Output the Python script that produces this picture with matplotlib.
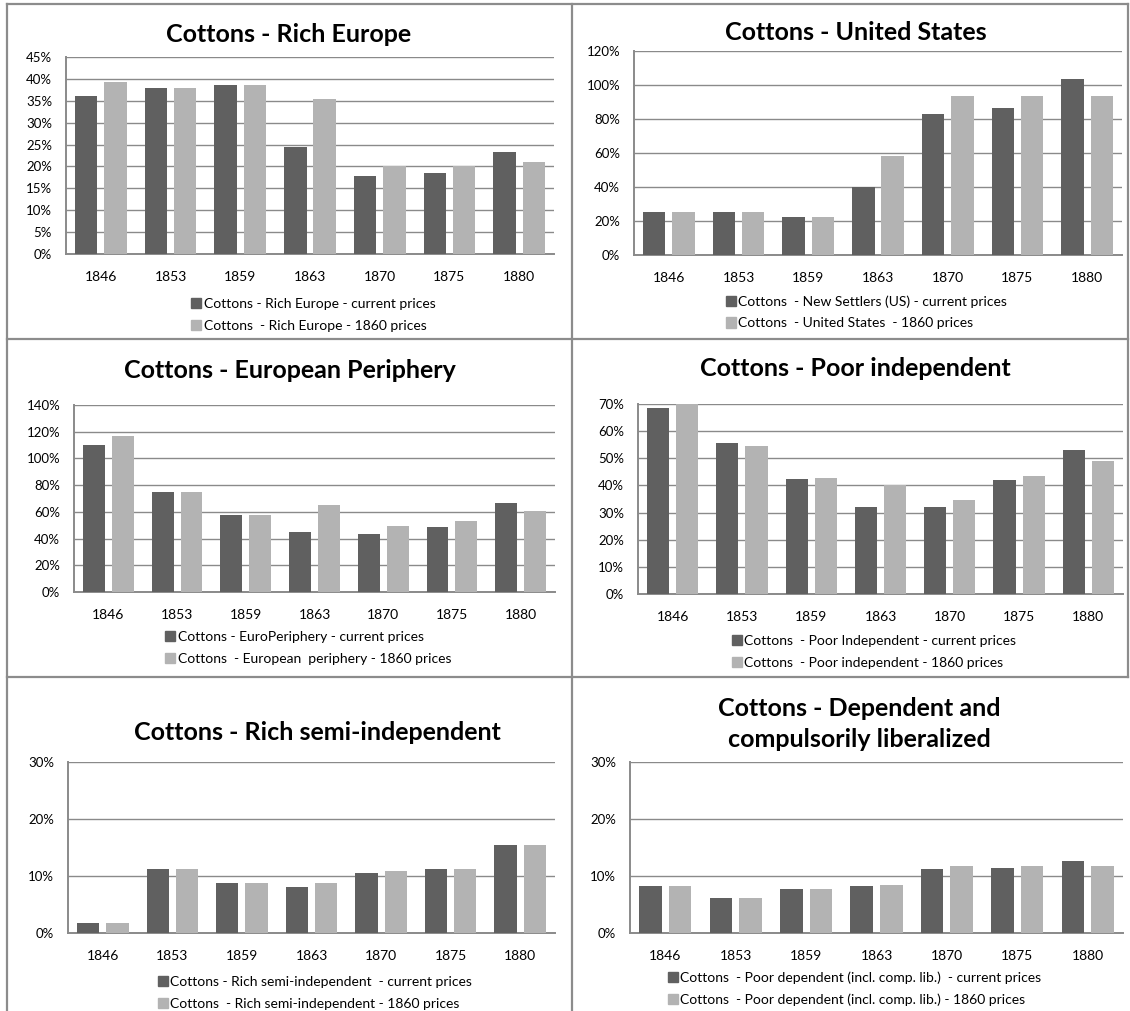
import matplotlib
matplotlib.use("Agg")
import matplotlib.pyplot as plt
import numpy as np
from matplotlib.patches import Patch
from matplotlib.lines import Line2D

plt.rcParams['font.family'] = ['Lato', 'DejaVu Sans']

years = ['1846', '1853', '1859', '1863', '1870', '1875', '1880']

# values in percent
rich_europe_cur = [36.2, 37.9, 38.6, 24.5, 17.8, 18.6, 23.4]
rich_europe_1860 = [39.2, 37.9, 38.6, 35.5, 20.1, 20.1, 21.0]
us_cur = [25.4, 25.4, 22.4, 40.1, 83.0, 86.6, 103.7]
us_1860 = [25.4, 25.4, 22.4, 58.0, 93.3, 93.3, 93.3]
euro_per_cur = [110.4, 75.0, 57.5, 44.9, 43.2, 48.4, 67.0]
euro_per_1860 = [116.7, 75.0, 57.5, 65.2, 49.2, 52.9, 60.5]
poor_ind_cur = [68.5, 55.5, 42.3, 31.9, 31.9, 42.0, 52.9]
poor_ind_1860 = [70.4, 54.5, 42.8, 40.1, 34.5, 43.6, 49.1]
rich_semi_cur = [1.7, 11.2, 8.7, 8.1, 10.6, 11.2, 15.5]
rich_semi_1860 = [1.7, 11.2, 8.7, 8.7, 10.8, 11.2, 15.5]
dep_cur = [8.3, 6.2, 7.7, 8.3, 11.2, 11.4, 12.6]
dep_1860 = [8.3, 6.2, 7.7, 8.5, 11.8, 11.8, 11.8]

titles = ['Cottons - Rich Europe', 'Cottons - United States',
          'Cottons - European Periphery', 'Cottons - Poor independent',
          'Cottons - Rich semi-independent',
          'Cottons - Dependent and\ncompulsorily liberalized']
labels_cur = ['Cottons - Rich Europe - current prices',
              'Cottons  - New Settlers (US) - current prices',
              'Cottons - EuroPeriphery - current prices',
              'Cottons  - Poor Independent - current prices',
              'Cottons - Rich semi-independent  - current prices',
              'Cottons  - Poor dependent (incl. comp. lib.)  - current prices']
labels_1860 = ['Cottons  - Rich Europe - 1860 prices',
               'Cottons  - United States  - 1860 prices',
               'Cottons  - European  periphery - 1860 prices',
               'Cottons  - Poor independent - 1860 prices',
               'Cottons  - Rich semi-independent - 1860 prices',
               'Cottons  - Poor dependent (incl. comp. lib.) - 1860 prices']
ymax = [45, 120, 140, 70, 30, 30]
ystep = [5, 20, 20, 10, 10, 10]
series = [(rich_europe_cur, rich_europe_1860), (us_cur, us_1860),
          (euro_per_cur, euro_per_1860), (poor_ind_cur, poor_ind_1860),
          (rich_semi_cur, rich_semi_1860), (dep_cur, dep_1860)]

W, H = 1130, 1011
DARK = '#606060'
LIGHT = '#b3b3b3'
GRID = '#8a8a8a'
FRAME = '#8c8c8c'

# pixel layout: axes box (x0, y0, x1, y1), title (x, y), legend (x, y of first row)
axes_px = [(66, 57, 554, 254), (634, 51, 1122, 255),
           (74, 405, 555, 592), (638, 404, 1123, 594),
           (68, 762, 555, 933), (630, 762, 1123, 933)]
title_px = [(289, 35), (856, 33), (290, 370), (855, 368), (317, 733), (859, 724)]
legend_px = [(195, 305), (730, 302), (169, 638), (736, 642), (162, 983), (672, 978)]

fig = plt.figure(figsize=(W / 100, H / 100), dpi=100)


def fx(x):
    return x / W


def fy(y):
    return 1 - y / H


# panel frames
for seg in [((7, 4), (1128, 4)), ((7, 4), (7, 1011)), ((1128, 4), (1128, 677)),
            ((572, 4), (572, 1011)), ((7, 339), (1128, 339)), ((7, 677), (1128, 677))]:
    (xa, ya), (xb, yb) = seg
    fig.add_artist(Line2D([fx(xa), fx(xb)], [fy(ya), fy(yb)], color=FRAME, lw=1.6))

x = np.arange(len(years))
w = 0.32
for i in range(6):
    x0, y0, x1, y1 = axes_px[i]
    ax = fig.add_axes([fx(x0), fy(y1), (x1 - x0) / W, (y1 - y0) / H])
    cur, old = series[i]
    ax.bar(x - 0.21, cur, w, color=DARK, zorder=3)
    ax.bar(x + 0.21, old, w, color=LIGHT, zorder=3)
    ax.set_xlim(-0.5, len(years) - 0.5)
    ax.set_ylim(0, ymax[i])
    ticks = np.arange(0, ymax[i] + 1, ystep[i])
    ax.set_yticks(ticks)
    ax.set_yticklabels([f'{t}%' for t in ticks], fontsize=9.5)
    ax.set_xticks(x)
    ax.set_xticklabels(years, fontsize=10)
    ax.tick_params(axis='x', length=0, pad=12)
    ax.tick_params(axis='y', length=0, pad=10)
    ax.grid(axis='y', color=GRID, lw=1.0, zorder=0)
    ax.set_axisbelow(True)
    for s in ['top', 'right']:
        ax.spines[s].set_visible(False)
    for s in ['left', 'bottom']:
        ax.spines[s].set_color(GRID)
        ax.spines[s].set_linewidth(1.4)

    tx, ty = title_px[i]
    fig.text(fx(tx), fy(ty), titles[i], ha='center', va='center',
             fontsize=18, fontweight='bold', linespacing=1.4)

    lx, ly = legend_px[i]
    handles = [Patch(color=DARK), Patch(color=LIGHT)]
    fig.legend(handles, [labels_cur[i], labels_1860[i]], loc='upper left',
               bbox_to_anchor=(fx(lx - 4), fy(ly - 7)), frameon=False,
               fontsize=10, handlelength=0.75, handleheight=0.75,
               handletextpad=0.15, labelspacing=0.7, borderaxespad=0,
               borderpad=0)

fig.savefig('out.png', dpi=100)
